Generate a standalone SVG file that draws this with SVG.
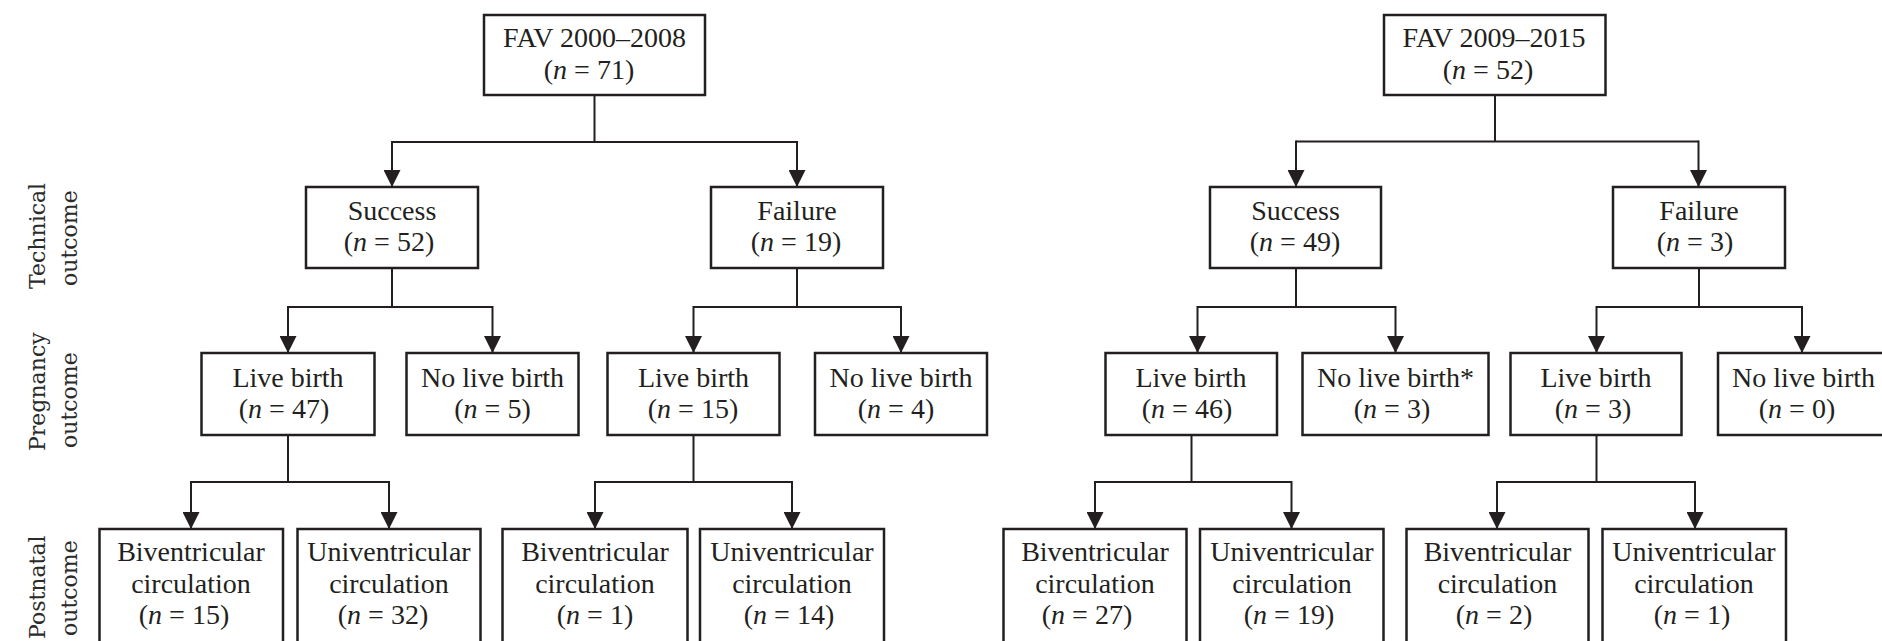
<svg xmlns="http://www.w3.org/2000/svg" width="1882" height="641" viewBox="0 0 1882 641">
<style>
.bx{fill:#fff;stroke:#231f20;stroke-width:2.5}
.t{font-family:"Liberation Serif","Times New Roman",serif;font-size:28px;fill:#231f20;text-anchor:middle}
.lab{font-family:"DejaVu Serif",serif;font-size:22px;fill:#2b2b2b}
.c{fill:none;stroke:#231f20;stroke-width:2}
.a{fill:none;stroke:#231f20;stroke-width:2;marker-end:url(#ah)}
</style>
<defs>
<marker id="ah" viewBox="0 0 17 17" refX="17" refY="8.5" markerWidth="17" markerHeight="17" markerUnits="userSpaceOnUse" orient="auto">
<path d="M0,0 L17,8.5 L0,17 z" fill="#231f20"/>
</marker>
</defs>
<rect width="1882" height="641" fill="#fff"/>

<g id="labels">
<text class="lab" transform="translate(45,289) rotate(-90)">Technical</text>
<text class="lab" transform="translate(77,286) rotate(-90)">outcome</text>
<text class="lab" transform="translate(45,451) rotate(-90)">Pregnancy</text>
<text class="lab" transform="translate(77,448) rotate(-90)">outcome</text>
<text class="lab" transform="translate(45,639) rotate(-90)">Postnatal</text>
<text class="lab" transform="translate(77,636) rotate(-90)">outcome</text>
</g>

<g id="connectors">
<!-- left tree -->
<path class="c" d="M594.5,95 V142 M392,142 H797"/>
<path class="a" d="M392,141 V187"/>
<path class="a" d="M797,141 V187"/>
<path class="c" d="M392,268 V307 M288,307 H492.5"/>
<path class="a" d="M288,306 V353"/>
<path class="a" d="M492.5,306 V353"/>
<path class="c" d="M797,268 V307 M693.5,307 H901"/>
<path class="a" d="M693.5,306 V353"/>
<path class="a" d="M901,306 V353"/>
<path class="c" d="M288,435 V482 M191,482 H389"/>
<path class="a" d="M191,481 V529"/>
<path class="a" d="M389,481 V529"/>
<path class="c" d="M693.5,435 V482 M595,482 H792"/>
<path class="a" d="M595,481 V529"/>
<path class="a" d="M792,481 V529"/>
<!-- right tree -->
<path class="c" d="M1495,95 V141.5 M1296,141.5 H1698.5"/>
<path class="a" d="M1296,140.5 V187"/>
<path class="a" d="M1698.5,140.5 V187"/>
<path class="c" d="M1296,268 V307 M1197.5,307 H1395.5"/>
<path class="a" d="M1197.5,306 V353"/>
<path class="a" d="M1395.5,306 V353"/>
<path class="c" d="M1699,268 V307 M1596.5,307 H1802"/>
<path class="a" d="M1596.5,306 V353"/>
<path class="a" d="M1802,306 V353"/>
<path class="c" d="M1191.5,435 V482 M1095,482 H1291.5"/>
<path class="a" d="M1095,481 V529"/>
<path class="a" d="M1291.5,481 V529"/>
<path class="c" d="M1596.5,435 V482 M1497,482 H1695"/>
<path class="a" d="M1497,481 V529"/>
<path class="a" d="M1695,481 V529"/>
</g>

<!-- left tree nodes -->
<g id="fav2000">
<rect class="bx" x="484" y="15" width="221" height="80"/>
<text class="t" x="594.5" y="47">FAV 2000–2008</text>
<text class="t" x="589" y="79">(<tspan font-style="italic">n</tspan> = 71)</text>
</g>
<g id="success1">
<rect class="bx" x="306" y="187" width="172" height="81"/>
<text class="t" x="392" y="220">Success</text>
<text class="t" x="389" y="251">(<tspan font-style="italic">n</tspan> = 52)</text>
</g>
<g id="failure1">
<rect class="bx" x="711" y="187" width="172" height="81"/>
<text class="t" x="797" y="220">Failure</text>
<text class="t" x="796" y="251">(<tspan font-style="italic">n</tspan> = 19)</text>
</g>
<g id="lb47">
<rect class="bx" x="201.5" y="353" width="173" height="82"/>
<text class="t" x="288" y="387">Live birth</text>
<text class="t" x="284" y="418">(<tspan font-style="italic">n</tspan> = 47)</text>
</g>
<g id="nlb5">
<rect class="bx" x="406.5" y="353" width="172" height="82"/>
<text class="t" x="492.5" y="387">No live birth</text>
<text class="t" x="492.5" y="418">(<tspan font-style="italic">n</tspan> = 5)</text>
</g>
<g id="lb15">
<rect class="bx" x="607.5" y="353" width="172" height="82"/>
<text class="t" x="693.5" y="387">Live birth</text>
<text class="t" x="693" y="418">(<tspan font-style="italic">n</tspan> = 15)</text>
</g>
<g id="nlb4">
<rect class="bx" x="815" y="353" width="172" height="82"/>
<text class="t" x="901" y="387">No live birth</text>
<text class="t" x="896" y="418">(<tspan font-style="italic">n</tspan> = 4)</text>
</g>
<g id="bi15">
<rect class="bx" x="99.5" y="529" width="183.5" height="130"/>
<text class="t" x="191" y="561">Biventricular</text>
<text class="t" x="191" y="593">circulation</text>
<text class="t" x="184" y="624">(<tspan font-style="italic">n</tspan> = 15)</text>
</g>
<g id="uni32">
<rect class="bx" x="297.5" y="529" width="183" height="130"/>
<text class="t" x="389" y="561">Univentricular</text>
<text class="t" x="389" y="593">circulation</text>
<text class="t" x="383" y="624">(<tspan font-style="italic">n</tspan> = 32)</text>
</g>
<g id="bi1">
<rect class="bx" x="502.5" y="529" width="185" height="130"/>
<text class="t" x="595" y="561">Biventricular</text>
<text class="t" x="595" y="593">circulation</text>
<text class="t" x="595" y="624">(<tspan font-style="italic">n</tspan> = 1)</text>
</g>
<g id="uni14">
<rect class="bx" x="700" y="529" width="184" height="130"/>
<text class="t" x="792" y="561">Univentricular</text>
<text class="t" x="792" y="593">circulation</text>
<text class="t" x="789" y="624">(<tspan font-style="italic">n</tspan> = 14)</text>
</g>

<!-- right tree nodes -->
<g id="fav2009">
<rect class="bx" x="1384" y="15" width="221.5" height="80"/>
<text class="t" x="1494" y="47">FAV 2009–2015</text>
<text class="t" x="1488" y="79">(<tspan font-style="italic">n</tspan> = 52)</text>
</g>
<g id="success2">
<rect class="bx" x="1210" y="187" width="171" height="81"/>
<text class="t" x="1295.5" y="220">Success</text>
<text class="t" x="1295" y="251">(<tspan font-style="italic">n</tspan> = 49)</text>
</g>
<g id="failure2">
<rect class="bx" x="1613" y="187" width="172" height="81"/>
<text class="t" x="1699" y="220">Failure</text>
<text class="t" x="1695" y="251">(<tspan font-style="italic">n</tspan> = 3)</text>
</g>
<g id="lb46">
<rect class="bx" x="1105.5" y="353" width="171.5" height="82"/>
<text class="t" x="1191" y="387">Live birth</text>
<text class="t" x="1187" y="418">(<tspan font-style="italic">n</tspan> = 46)</text>
</g>
<g id="nlb3">
<rect class="bx" x="1302.5" y="353" width="186" height="82"/>
<text class="t" x="1395.5" y="387">No live birth*</text>
<text class="t" x="1392" y="418">(<tspan font-style="italic">n</tspan> = 3)</text>
</g>
<g id="lb3">
<rect class="bx" x="1510.5" y="353" width="171" height="82"/>
<text class="t" x="1596" y="387">Live birth</text>
<text class="t" x="1593" y="418">(<tspan font-style="italic">n</tspan> = 3)</text>
</g>
<g id="nlb0">
<rect class="bx" x="1718" y="353" width="172" height="82"/>
<text class="t" x="1803.5" y="387">No live birth</text>
<text class="t" x="1797" y="418">(<tspan font-style="italic">n</tspan> = 0)</text>
</g>
<g id="bi27">
<rect class="bx" x="1003.5" y="529" width="183" height="130"/>
<text class="t" x="1095" y="561">Biventricular</text>
<text class="t" x="1095" y="593">circulation</text>
<text class="t" x="1087" y="624">(<tspan font-style="italic">n</tspan> = 27)</text>
</g>
<g id="uni19">
<rect class="bx" x="1200" y="529" width="183.5" height="130"/>
<text class="t" x="1292" y="561">Univentricular</text>
<text class="t" x="1292" y="593">circulation</text>
<text class="t" x="1289" y="624">(<tspan font-style="italic">n</tspan> = 19)</text>
</g>
<g id="bi2">
<rect class="bx" x="1406.5" y="529" width="182" height="130"/>
<text class="t" x="1497.5" y="561">Biventricular</text>
<text class="t" x="1497.5" y="593">circulation</text>
<text class="t" x="1494" y="624">(<tspan font-style="italic">n</tspan> = 2)</text>
</g>
<g id="uni1">
<rect class="bx" x="1602.5" y="529" width="183.5" height="130"/>
<text class="t" x="1694" y="561">Univentricular</text>
<text class="t" x="1694" y="593">circulation</text>
<text class="t" x="1692" y="624">(<tspan font-style="italic">n</tspan> = 1)</text>
</g>
</svg>
